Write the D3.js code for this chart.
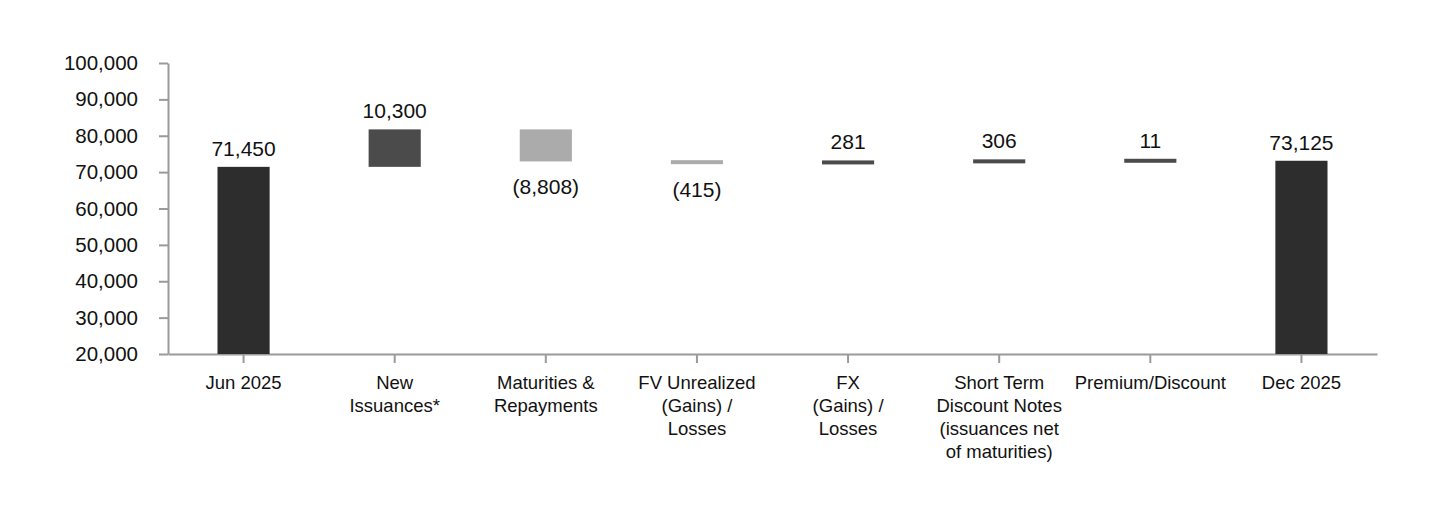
<!DOCTYPE html>
<html>
<head>
<meta charset="utf-8">
<script src="https://cdn.jsdelivr.net/npm/d3@7"></script>
<style>
  html, body { margin: 0; padding: 0; background: #fff; }
  svg text { font-family: "Liberation Sans", Arial, sans-serif; fill: #111; }
</style>
</head>
<body>
<div id="chart"></div>
<script>
// categories and values
const categories = ["Jun 2025", "New Issuances*", "Maturities & Repayments", "FV Unrealized (Gains) / Losses",
    "FX (Gains) / Losses", "Short Term Discount Notes", "Premium/Discount", "Dec 2025"];
const categoryLines = [
    ["Jun 2025"],
    ["New", "Issuances*"],
    ["Maturities &", "Repayments"],
    ["FV Unrealized", "(Gains) /", "Losses"],
    ["FX", "(Gains) /", "Losses"],
    ["Short Term", "Discount Notes", "(issuances net", "of maturities)"],
    ["Premium/Discount"],
    ["Dec 2025"]
];
const values = [71450, 10300, -8808, -415, 281, 306, 11, 73125];
const kinds = ["total", "delta", "delta", "delta", "delta", "delta", "delta", "total"];
const yTicks = [20000, 30000, 40000, 50000, 60000, 70000, 80000, 90000, 100000];

const chartW = 1440, chartH = 522;
const plotLeft = 168, plotRight = 1377, plotTop = 63, plotBottom = 354;

const svg = d3.select("#chart").append("svg")
    .attr("width", chartW)
    .attr("height", chartH);

const x = d3.scaleBand()
    .domain(categories)
    .range([plotLeft, plotRight])
    .paddingInner(0.655)
    .paddingOuter(0.3275);

const y = d3.scaleLinear()
    .domain([20000, 100000])
    .range([plotBottom, plotTop]);

// 计算瀑布图的起止
let running = 0;
const bars = categories.map((c, i) => {
    let start, end;
    if (kinds[i] === "total") {
        start = 20000; end = values[i]; running = values[i];
    } else {
        start = running; end = running + values[i]; running = end;
    }
    return { cat: c, value: values[i], kind: kinds[i], start, end };
});

const fmt = d3.format(",");
function label(d) {
    return d.value < 0 ? "(" + fmt(-d.value) + ")" : fmt(d.value);
}
function color(d) {
    if (d.kind === "total") return "#2d2d2d";
    if (d.value >= 0) return "#4b4b4b";
    return "#ababab";
}

// 坐标轴
const yAxis = svg.append("g")
    .attr("transform", `translate(${plotLeft},0)`)
    .call(d3.axisLeft(y).tickValues(yTicks).tickSize(9).tickSizeOuter(0).tickFormat(fmt).tickPadding(21));
yAxis.selectAll("text").style("font-size", "20.5px");

const xAxis = svg.append("g")
    .attr("transform", `translate(0,${plotBottom})`)
    .call(d3.axisBottom(x).tickSize(9).tickSizeOuter(0).tickFormat(""));

svg.selectAll(".domain, .tick line")
    .attr("stroke", "#9a9a9a")
    .attr("stroke-width", 2);

// 多行类别标签
const catLabels = svg.append("g").selectAll("text")
    .data(categories)
    .join("text")
    .attr("text-anchor", "middle")
    .style("font-size", "18.5px")
    .attr("transform", d => `translate(${x(d) + x.bandwidth() / 2},${plotBottom + 35})`);
catLabels.selectAll("tspan")
    .data((d, i) => categoryLines[i])
    .join("tspan")
    .attr("x", 0)
    .attr("y", (d, j) => j * 23)
    .text(d => d);

// 柱子
const minH = 4;
svg.append("g").selectAll("rect")
    .data(bars)
    .join("rect")
    .attr("x", d => x(d.cat))
    .attr("width", x.bandwidth())
    .attr("y", d => {
        const y0 = y(Math.max(d.start, d.end)), y1 = y(Math.min(d.start, d.end));
        return (y1 - y0) < minH ? (y0 + y1) / 2 - minH / 2 : y0;
    })
    .attr("height", d => Math.max(minH, Math.abs(y(d.start) - y(d.end))))
    .attr("fill", color);

// 数值标签
svg.append("g").selectAll("text")
    .data(bars)
    .join("text")
    .attr("text-anchor", "middle")
    .style("font-size", "21px")
    .attr("x", d => x(d.cat) + x.bandwidth() / 2)
    .attr("y", d => {
        const hi = y(Math.max(d.start, d.end)), lo = y(Math.min(d.start, d.end));
        const h = Math.max(minH, lo - hi), mid = (hi + lo) / 2;
        return d.value >= 0 ? mid - h / 2 - 11 : mid + h / 2 + 33;
    })
    .text(label);
</script>
</body>
</html>
